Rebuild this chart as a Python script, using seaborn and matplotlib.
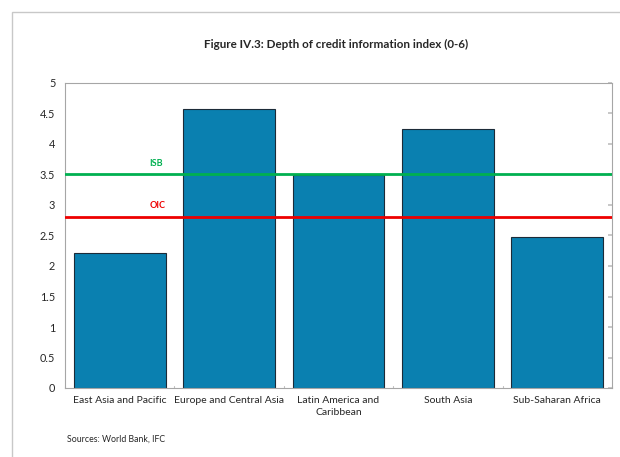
import numpy as np
import pandas as pd
import matplotlib
matplotlib.use("Agg")
import matplotlib.pyplot as plt
import seaborn as sns
from matplotlib.patches import Rectangle

# values
regions = ["East Asia and Pacific", "Europe and Central Asia", "Latin America and\nCaribbean",
           "South Asia", "Sub-Saharan Africa"]
depth = [2.22, 4.57, 3.49, 4.25, 2.48]
isb_level = 3.5
oic_level = 2.81
yticks = [0, 0.5, 1, 1.5, 2, 2.5, 3, 3.5, 4, 4.5, 5]

sns.set_theme(style="white")
plt.rcParams['font.family'] = ['Lato', 'DejaVu Sans']

df = pd.DataFrame({"region": regions, "depth": depth})

fig = plt.figure(figsize=(6.2, 4.57), dpi=100)
# grey outer frame of the exhibit (cropped at right and bottom)
fig.patches.append(Rectangle((11.5 / 620, -0.1), 1.2, 1 - 11.5 / 457 + 0.1, transform=fig.transFigure,
                             fill=False, edgecolor="#c8c8c8", linewidth=1.0))
ax = fig.add_axes([65 / 620, 69 / 457, 547 / 620, 305 / 457])

sns.barplot(data=df, x="region", y="depth", color="#0a80b0", saturation=1, width=0.84,
            edgecolor="#1c2b38", linewidth=0.8, ax=ax)

ax.axhline(isb_level, color="#00b050", linewidth=2, zorder=5)
ax.axhline(oic_level, color="#ee0000", linewidth=2, zorder=5)
ax.text(0.33, isb_level + 0.1, "ISB", color="#00b050", fontsize=6.5, fontweight="bold",
        ha="center", va="bottom", zorder=6)
ax.text(0.35, oic_level + 0.1, "OIC", color="#ee0000", fontsize=6.5, fontweight="bold",
        ha="center", va="bottom", zorder=6)

ax.set_ylim(0, 5)
ax.set_xlim(-0.5, 4.5)
ax.set_yticks(yticks)
ax.set_yticklabels([f"{t:g}" for t in yticks])
ax.set_xticks([0, 1, 2, 3, 4])
ax.set_xticklabels(regions, fontsize=7.5, color="#262626", linespacing=1.45)
ax.set_xlabel("")
ax.set_ylabel("")
ax.tick_params(axis="y", labelsize=7.8, colors="#262626", length=3, color="#c0c0c0",
               direction="in", right=True, pad=7)
ax.tick_params(axis="x", length=0, pad=6)
# small inward ticks at the category boundaries
for b in np.arange(-0.5, 4.6, 1.0):
    ax.plot([b, b], [0, 0.04], color="#c0c0c0", linewidth=0.8, clip_on=False)
for s in ax.spines.values():
    s.set_color("#a6a6a6")
    s.set_linewidth(0.8)

fig.text(336 / 620, 1 - 44 / 457, "Figure IV.3: Depth of credit information index (0-6)",
         ha="center", va="center", fontsize=8.4, fontweight="bold", color="#262626")
fig.text(67 / 620, 1 - 439 / 457, "Sources: World Bank, IFC", ha="left", va="center", fontsize=6.3, color="#262626")

fig.savefig("out.png", dpi=100, facecolor="white")
